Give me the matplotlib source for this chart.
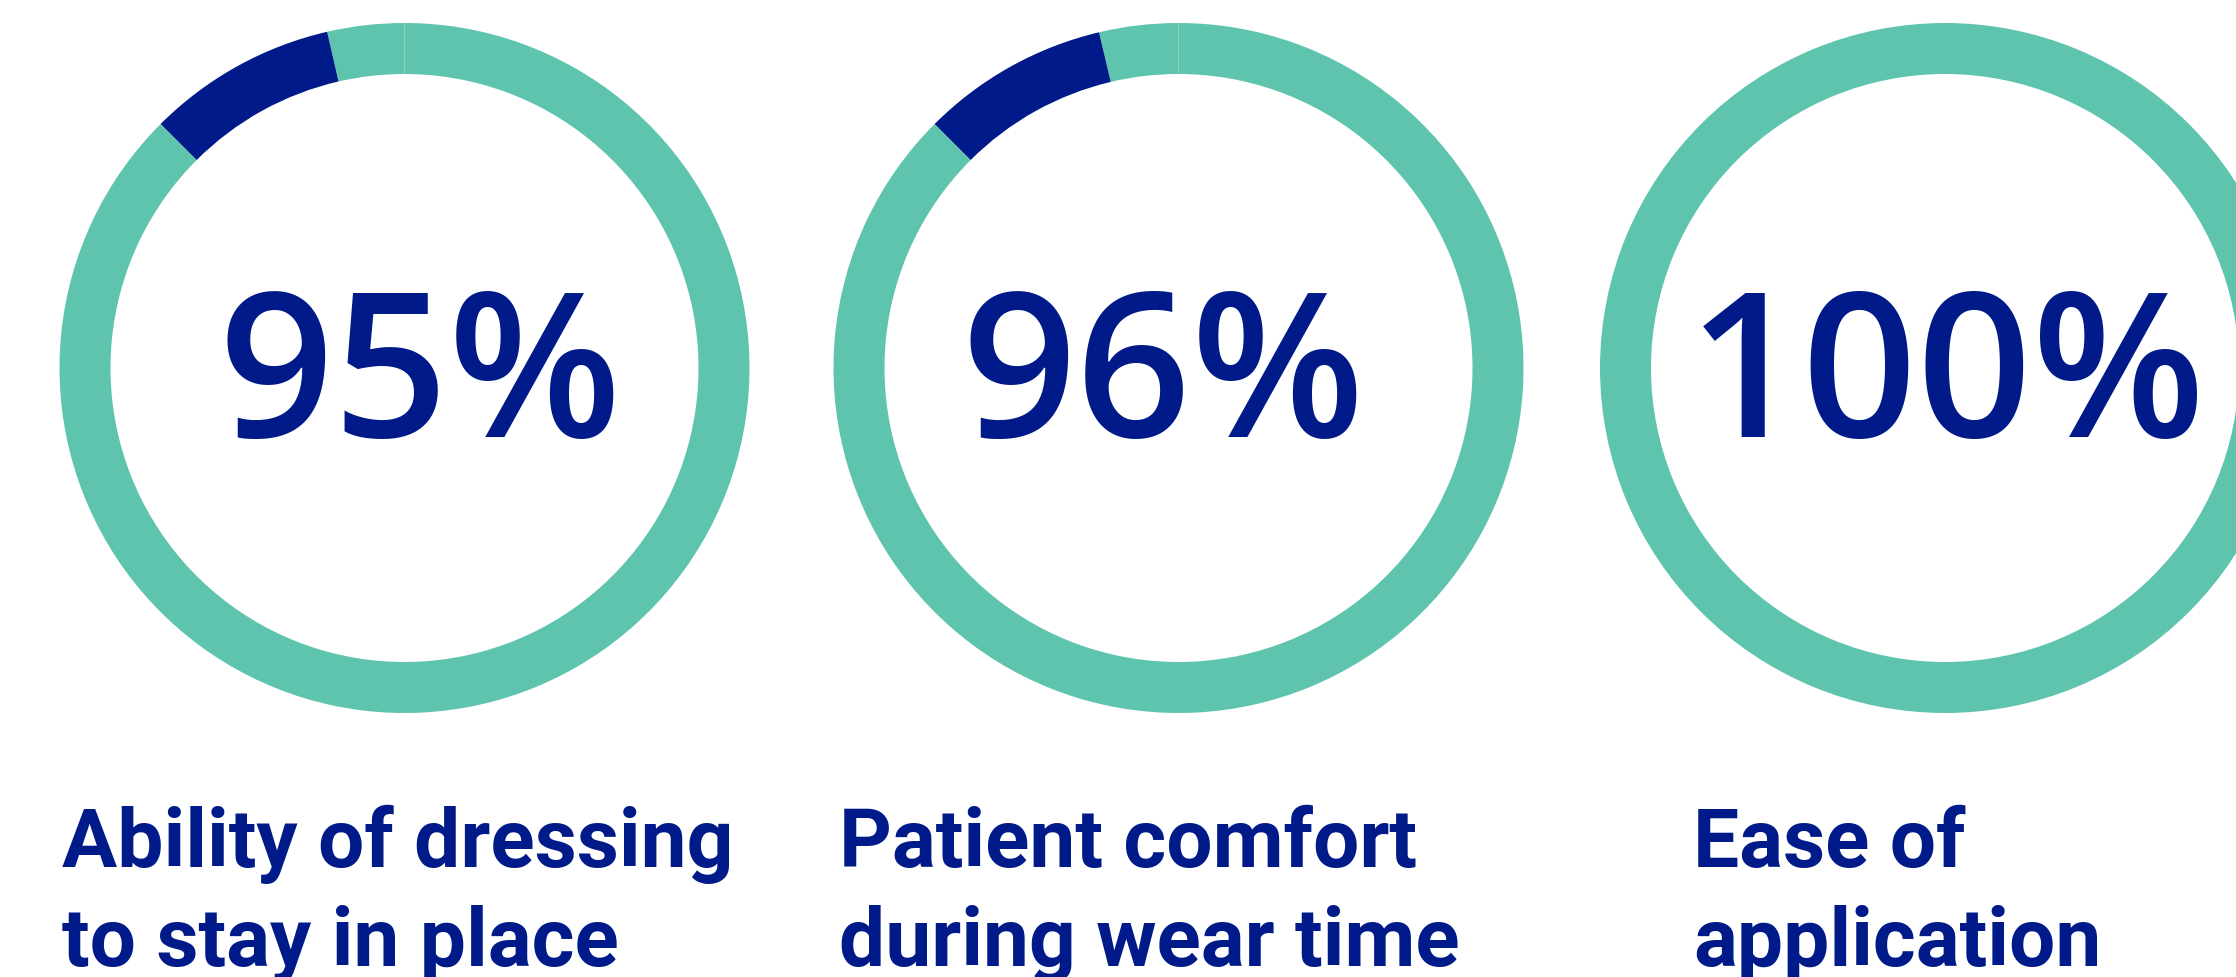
import matplotlib
matplotlib.use("Agg")
import matplotlib.pyplot as plt

# ---- data ----
scores = [95, 96, 100]
score_labels = ["95%", "96%", "100%"]
categories = [
    "Ability of dressing\nto stay in place",
    "Patient comfort\nduring wear time",
    "Ease of\napplication",
]
# ring segments in percent of the full circle, counter-clockwise from 12 o'clock
ring_segments = [
    [3.6, 8.9, 87.5],
    [3.7, 8.8, 87.5],
    [100.0],
]
segment_kinds = [
    ["rest", "highlight", "rest"],
    ["rest", "highlight", "rest"],
    ["rest"],
]

# ---- style / layout ----
TEAL = "#5EC4AE"
NAVY = "#001B89"
kind_color = {"rest": TEAL, "highlight": NAVY}

W, H = 2236, 977
fig = plt.figure(figsize=(W / 100, H / 100), dpi=100)
ax = fig.add_axes([0, 0, 1, 1])

ring_cx = [404.5, 1178.5, 1945.0]
ring_cy = 368.0          # pixel row of ring centres (from top)
R_OUT, RING_W = 345.0, 51.0
text_cx = [420.0, 1163.0, 1947.0]
text_baseline = 437.0
label_x = [62.0, 839.0, 1693.0]
label_baseline = 867.0
label_step = 99.0

for i in range(len(scores)):
    cy = H - ring_cy
    ax.pie(ring_segments[i],
           colors=[kind_color[k] for k in segment_kinds[i]],
           startangle=90, counterclock=True,
           center=(ring_cx[i], cy), radius=R_OUT,
           wedgeprops=dict(width=RING_W, linewidth=0, antialiased=True))
    ax.text(text_cx[i], H - text_baseline, score_labels[i],
            ha="center", va="baseline", color=NAVY,
            fontsize=145, fontfamily="Open Sans", fontweight="semibold")
    for j, line in enumerate(categories[i].split("\n")):
        ax.text(label_x[i], H - (label_baseline + j * label_step), line,
                ha="left", va="baseline", color=NAVY,
                fontsize=59, fontfamily="Roboto", fontweight="bold")

ax.set_xlim(0, W)
ax.set_ylim(0, H)
ax.set_aspect("equal")
ax.axis("off")

fig.savefig("out.png", dpi=100, facecolor="white")
